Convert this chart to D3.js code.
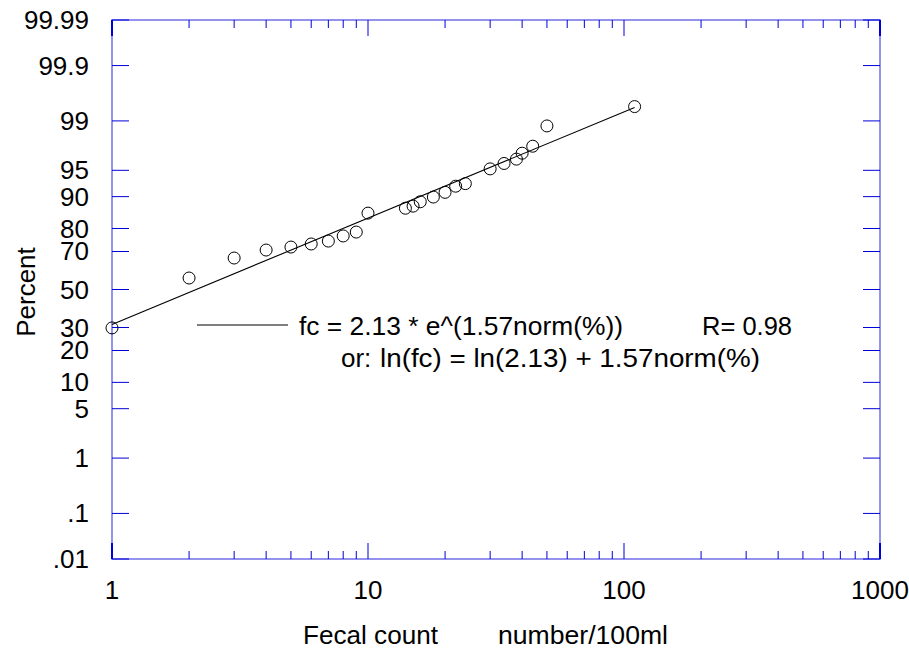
<!DOCTYPE html>
<html><head><meta charset="utf-8">
<script src="https://cdn.jsdelivr.net/npm/d3@7"></script>
<style>
html,body{margin:0;padding:0;background:#fff;}
svg text{font-family:"Liberation Sans",Arial,sans-serif;fill:#000;}
</style></head>
<body><svg id="c" width="909" height="652"></svg>
<script>
// ---- data ----
const counts   = [1, 2, 3, 4, 5, 6, 7, 8, 9, 10, 14, 15, 16, 18, 20, 22, 24, 30, 34, 38, 40, 44, 50, 110];
const percents = [29.8, 56.3, 66.8, 70.7, 72.1, 73.5, 74.8, 77.0, 78.6, 85.4, 86.9, 87.5, 88.7, 89.9, 91.0, 92.3, 92.8, 95.2, 95.9, 96.4, 97.0, 97.6, 98.8, 99.42];
const yTickValues = [0.01, 0.1, 1, 5, 10, 20, 30, 50, 70, 80, 90, 95, 99, 99.9, 99.99];
const yTickLabels = [".01", ".1", "1", "5", "10", "20", "30", "50", "70", "80", "90", "95", "99", "99.9", "99.99"];
const xTickValues = [1, 10, 100, 1000];
const xTickLabels = ["1", "10", "100", "1000"];
const fitA = 2.13, fitB = 1.57;
const fitRange = [1, 110];
const legendLine1 = "fc = 2.13 * e^(1.57norm(%))";
const legendLine2a = "or:";
const legendLine2b = "ln(fc) = ln(2.13) + 1.57norm(%)";
const legendR = "R= 0.98";
const xTitleA = "Fecal count", xTitleB = "number/100ml", yTitle = "Percent";

// inverse normal CDF (Acklam) - defines the probability axis
function probit(p){
  const a=[-3.969683028665376e+01,2.209460984245205e+02,-2.759285104469687e+02,1.383577518672690e+02,-3.066479806614716e+01,2.506628277459239e+00];
  const b=[-5.447609879822406e+01,1.615858368580409e+02,-1.556989798598866e+02,6.680131188771972e+01,-1.328068155288572e+01];
  const c=[-7.784894002430293e-03,-3.223964580411365e-01,-2.400758277161838e+00,-2.549732539343734e+00,4.374664141464968e+00,2.938163982698783e+00];
  const d=[7.784695709041462e-03,3.224671290700398e-01,2.445134137142996e+00,3.754408661907416e+00];
  const pl=0.02425, ph=1-pl; let q,r;
  if(p<pl){q=Math.sqrt(-2*Math.log(p));return (((((c[0]*q+c[1])*q+c[2])*q+c[3])*q+c[4])*q+c[5])/((((d[0]*q+d[1])*q+d[2])*q+d[3])*q+1);}
  if(p<=ph){q=p-0.5;r=q*q;return (((((a[0]*r+a[1])*r+a[2])*r+a[3])*r+a[4])*r+a[5])*q/(((((b[0]*r+b[1])*r+b[2])*r+b[3])*r+b[4])*r+1);}
  q=Math.sqrt(-2*Math.log(1-p));return -(((((c[0]*q+c[1])*q+c[2])*q+c[3])*q+c[4])*q+c[5])/((((d[0]*q+d[1])*q+d[2])*q+d[3])*q+1);
}

const L=112, R=880, T=20, B=559;
const svg=d3.select("#c");
const x=d3.scaleLog().domain([1,1000]).range([L,R]);
const yz=d3.scaleLinear().domain([probit(0.0001),probit(0.9999)]).range([B,T]);
const y=p=>yz(probit(p/100));

const frameCol="#7878ea", tickCol="#0000d8";
svg.append("rect").attr("x",L).attr("y",T).attr("width",R-L).attr("height",B-T)
  .attr("fill","none").attr("stroke",frameCol).attr("stroke-width",1.6);

const minorX=[];
[1,10,100].forEach(d=>{for(let k=2;k<=9;k++)minorX.push(d*k);});
const gx=svg.append("g");
function xt(v,len){
  gx.append("line").attr("x1",x(v)).attr("x2",x(v)).attr("y1",B).attr("y2",B-len).attr("stroke",tickCol).attr("stroke-width",1);
  gx.append("line").attr("x1",x(v)).attr("x2",x(v)).attr("y1",T).attr("y2",T+len).attr("stroke",tickCol).attr("stroke-width",1);
}
minorX.forEach(v=>xt(v,8));
xTickValues.forEach(v=>xt(v,16));
yTickValues.forEach(v=>{
  gx.append("line").attr("x1",L).attr("x2",L+17).attr("y1",y(v)).attr("y2",y(v)).attr("stroke",tickCol).attr("stroke-width",1);
  gx.append("line").attr("x1",R-17).attr("x2",R).attr("y1",y(v)).attr("y2",y(v)).attr("stroke",tickCol).attr("stroke-width",1);
});
[[L,T,1],[R,T,1],[L,B,-1],[R,B,-1]].forEach(([cx,cy,s])=>{
  gx.append("line").attr("x1",cx).attr("x2",cx).attr("y1",cy).attr("y2",cy+s*16).attr("stroke",tickCol).attr("stroke-width",2);
});

const fs=26;
svg.append("g").selectAll("text").data(yTickValues).join("text")
  .attr("x",89).attr("y",d=>y(d)+9).attr("text-anchor","end").attr("font-size",fs)
  .text((d,i)=>yTickLabels[i]);
svg.append("g").selectAll("text").data(xTickValues).join("text")
  .attr("x",d=>x(d)).attr("y",599).attr("text-anchor","middle").attr("font-size",fs)
  .text((d,i)=>xTickLabels[i]);

svg.append("text").attr("transform","translate(35,292) rotate(-90)").attr("text-anchor","middle").attr("font-size",fs).text(yTitle);
svg.append("text").attr("x",303).attr("y",644).attr("font-size",fs).attr("textLength",135).attr("lengthAdjust","spacingAndGlyphs").text(xTitleA);
svg.append("text").attr("x",498).attr("y",644).attr("font-size",fs).attr("textLength",170).attr("lengthAdjust","spacingAndGlyphs").text(xTitleB);

// fit line: fc = A*exp(B*z)  ->  z = ln(fc/A)/B
const zOf=v=>Math.log(v/fitA)/fitB;
svg.append("line")
  .attr("x1",x(fitRange[0])).attr("y1",yz(zOf(fitRange[0])))
  .attr("x2",x(fitRange[1])).attr("y2",yz(zOf(fitRange[1])))
  .attr("stroke","#000").attr("stroke-width",1.1);

svg.append("g").selectAll("circle").data(counts).join("circle")
  .attr("cx",d=>x(d)).attr("cy",(d,i)=>y(percents[i])).attr("r",6)
  .attr("fill","none").attr("stroke","#000").attr("stroke-width",1);

// legend
svg.append("line").attr("x1",197).attr("x2",288).attr("y1",325).attr("y2",325).attr("stroke","#000").attr("stroke-width",1.1);
svg.append("text").attr("x",299).attr("y",335).attr("font-size",fs).attr("textLength",324).attr("lengthAdjust","spacingAndGlyphs").text(legendLine1);
svg.append("text").attr("x",702).attr("y",335).attr("font-size",fs).attr("textLength",90).attr("lengthAdjust","spacingAndGlyphs").text(legendR);
svg.append("text").attr("x",341).attr("y",367).attr("font-size",fs).text(legendLine2a);
svg.append("text").attr("x",380).attr("y",367).attr("font-size",fs).attr("textLength",380).attr("lengthAdjust","spacingAndGlyphs").text(legendLine2b);
</script></body></html>
